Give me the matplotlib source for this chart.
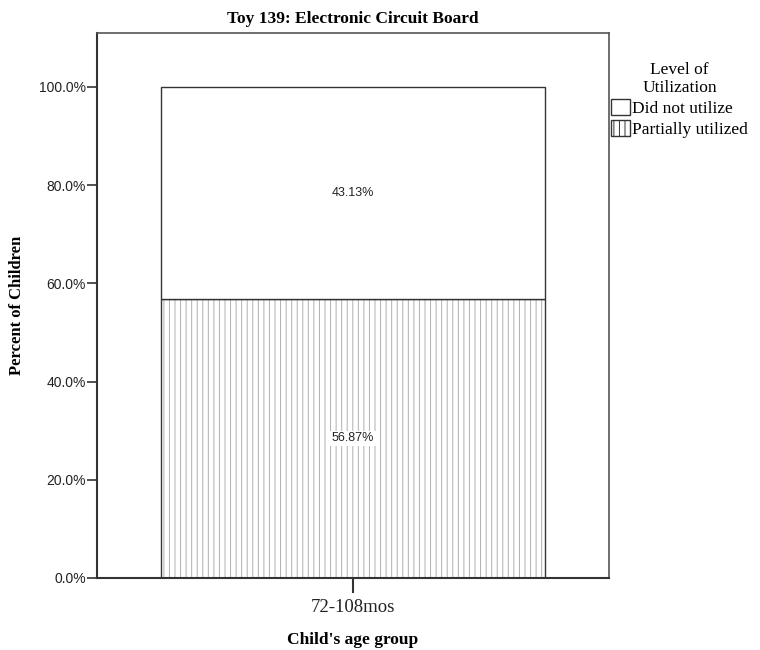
import matplotlib.pyplot as plt
from matplotlib.patches import Patch

# data
groups = ["72-108mos"]
levels = ["Did not utilize", "Partially utilized"]
partially = [56.87]
not_used = [43.13]
yticks = [0, 20, 40, 60, 80, 100]

serif = ["Liberation Serif", "DejaVu Serif"]
sans = ["Liberation Sans", "DejaVu Sans"]
plt.rcParams["hatch.linewidth"] = 0.7

fig = plt.figure(figsize=(7.6, 6.5), dpi=100)
ax = fig.add_axes([0.1276, 0.1108, 0.6737, 0.8385])

x = list(range(len(groups)))
ax.bar(x, partially, width=0.75, color="white", edgecolor="#b0b0b0",
       hatch="|||", linewidth=0)
ax.bar(x, partially, width=0.75, fill=False, edgecolor="#333333", linewidth=1)
ax.bar(x, not_used, bottom=partially, width=0.75, color="white",
       edgecolor="#333333", linewidth=1)

for i in x:
    ax.text(i, partially[i] / 2, f"{partially[i]:.2f}%", ha="center", va="center",
            fontsize=9, family=sans, color="#222222",
            bbox=dict(facecolor="white", edgecolor="none", pad=1))
    ax.text(i, partially[i] + not_used[i] / 2, f"{not_used[i]:.2f}%", ha="center",
            va="center", fontsize=9, family=sans, color="#222222")

ax.set_xlim(-0.5, 0.5)
ax.set_ylim(0, 111)
ax.set_xticks(x)
ax.set_xticklabels(groups, family=serif, fontsize=13.5, color="#222222")
ax.set_yticks(yticks)
ax.set_yticklabels([f"{v:.1f}%" for v in yticks], family=sans, fontsize=10,
                   color="#222222")
ax.tick_params(axis="y", length=7, width=1.2, color="#333333", pad=1)
ax.tick_params(axis="x", length=11, width=1.5, color="#333333", pad=4)

for s in ["left", "bottom"]:
    ax.spines[s].set_linewidth(1.5)
    ax.spines[s].set_color("#333333")
for s in ["top", "right"]:
    ax.spines[s].set_linewidth(1.2)
    ax.spines[s].set_color("#555555")

ax.set_title("Toy 139: Electronic Circuit Board", family=serif, fontsize=12.5,
             fontweight="bold", pad=7)
ax.set_ylabel("Percent of Children", family=serif, fontsize=12, fontweight="bold",
              labelpad=10)
ax.set_xlabel("Child's age group", family=serif, fontsize=12.5, fontweight="bold",
              labelpad=12)

handles = [Patch(facecolor="white", edgecolor="#333333", linewidth=1),
           Patch(facecolor="white", edgecolor="#333333", hatch="|||", linewidth=1)]
leg = fig.legend(handles, levels, title="Level of\nUtilization", loc="upper left",
                 bbox_to_anchor=(0.804, 0.905), frameon=False,
                 prop={"family": serif, "size": 12.5}, handlelength=1.1,
                 handleheight=1.1, handletextpad=0.1, labelspacing=0.15,
                 borderaxespad=0, borderpad=0, alignment="center")
leg.get_title().set_fontfamily(serif)
leg.get_title().set_fontsize(12.5)
leg.get_title().set_multialignment("center")

fig.savefig("out.png", dpi=100)
